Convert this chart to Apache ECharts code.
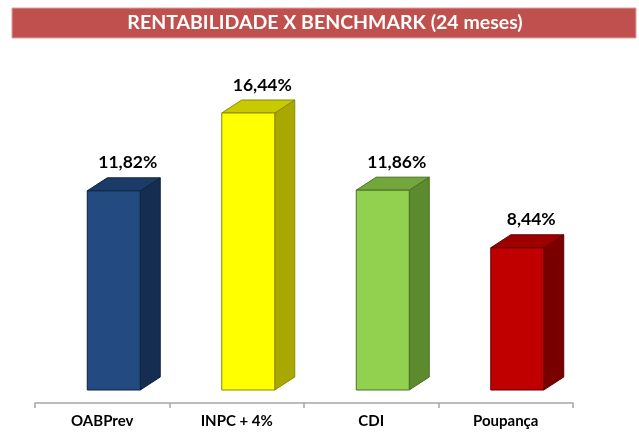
<!DOCTYPE html>
<html><head><meta charset="utf-8">
<script src="https://cdn.jsdelivr.net/npm/echarts@6/dist/echarts.min.js"></script>
<style>html,body{margin:0;padding:0;background:#fff}#c{width:639px;height:433px}</style>
</head><body><div id="c"></div>
<script>
const categories = ['OABPrev', 'INPC + 4%', 'CDI', 'Poupança'];
const values = [11.82, 16.44, 11.86, 8.44];
const titleText = 'RENTABILIDADE X BENCHMARK (24 meses)';

const frontColors = ['#234B82', '#FFFF00', '#92D050', '#C00000'];
const sideColors  = ['#152D50', '#A8A800', '#5C8A2E', '#7A0000'];
const topColors   = ['#1B3C68', '#C9C900', '#73A63C', '#9E0000'];
const edgeColors  = ['#0E2240', '#8A8A00', '#4A7025', '#600000'];

const chart = echarts.init(document.getElementById('c'));
const FONT = 'Lato, "Open Sans", sans-serif';

function renderItem(params, api) {
  const i = params.dataIndex;
  const v = api.value(1);
  const base = api.coord([api.value(0), 0]);
  const top = api.coord([api.value(0), v]);
  const w = 53, dx = 20, dy = 13, off = 11.5;
  const l = base[0] + off - w / 2, r = base[0] + off + w / 2;
  const yb = base[1], yt = top[1];
  return {
    type: 'group',
    children: [
      { type: 'polygon', shape: { points: [[r, yt], [r + dx, yt - dy], [r + dx, yb - dy], [r, yb]] },
        style: { fill: sideColors[i], stroke: edgeColors[i], lineWidth: 1 } },
      { type: 'polygon', shape: { points: [[l, yt], [l + dx, yt - dy], [r + dx, yt - dy], [r, yt]] },
        style: { fill: topColors[i], stroke: edgeColors[i], lineWidth: 1 } },
      { type: 'rect', shape: { x: l, y: yt, width: w, height: yb - yt },
        style: { fill: frontColors[i], stroke: edgeColors[i], lineWidth: 1 } },
      { type: 'text', x: (l + r + dx) / 2 + 4, y: yt - dy - 15,
        style: { text: v.toFixed(2).replace('.', ',') + '%', fill: '#000', font: 'bold 17.5px ' + FONT,
          align: 'center', verticalAlign: 'middle' } }
    ]
  };
}

chart.setOption({
  animation: false,
  graphic: [
    { type: 'rect', shape: { x: 12, y: 8, width: 624, height: 30 },
      style: { fill: '#C0504D', stroke: '#D9A3A2', lineWidth: 1 } },
    { type: 'text', x: 325, y: 23,
      style: { text: titleText, fill: '#fff', font: 'bold 19.5px ' + FONT, align: 'center', verticalAlign: 'middle' } }
  ],
  grid: { left: 35, right: 66, top: 53, bottom: 43 },
  xAxis: {
    type: 'category', data: categories, offset: 13,
    axisLine: { onZero: false, lineStyle: { color: '#A6A6A6', width: 1.5 } },
    axisTick: { show: true, length: 5, lineStyle: { color: '#A6A6A6', width: 1.5 } },
    axisLabel: { color: '#000', fontWeight: 'bold', fontSize: 15, fontFamily: FONT, margin: 11 }
  },
  yAxis: { type: 'value', min: 0, max: 20, show: false, splitLine: { show: false } },
  series: [{ type: 'custom', renderItem: renderItem, data: values.map((v, i) => [i, v]) }]
});
</script></body></html>
